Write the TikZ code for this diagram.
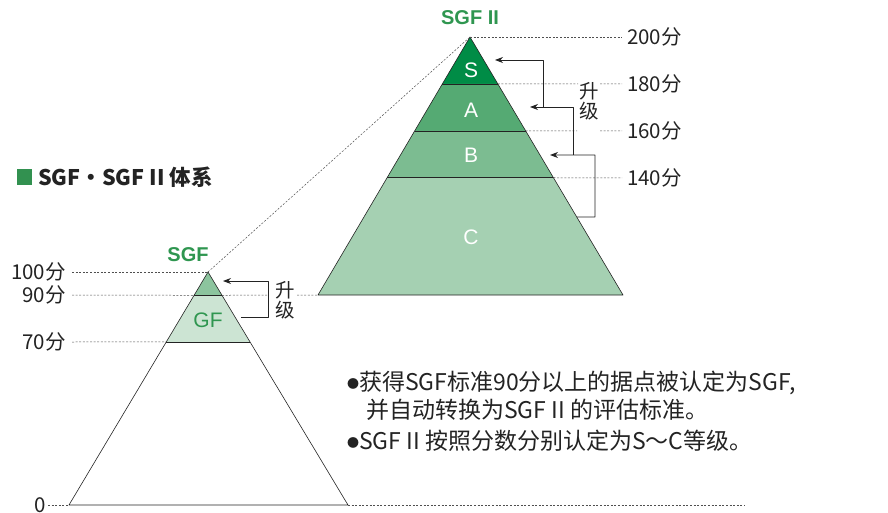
\documentclass[tikz,border=0pt]{standalone}
\usepackage{fontspec}
\setmainfont{Noto Sans CJK SC}
\newfontfamily\arialf{Liberation Sans}
\usetikzlibrary{calc,arrows.meta}
\definecolor{cS}{RGB}{0,140,70}
\definecolor{cA}{RGB}{85,170,115}
\definecolor{cB}{RGB}{124,188,145}
\definecolor{cC}{RGB}{165,208,178}
\definecolor{cTip}{RGB}{140,196,158}
\definecolor{cGF}{RGB}{204,228,211}
\definecolor{gtext}{RGB}{47,150,80}
\definecolor{gsq}{RGB}{50,145,80}
\definecolor{ink}{RGB}{35,35,35}
\begin{document}
\begin{tikzpicture}[x=1pt,y=-1pt,line join=round,
  edge/.style={line width=0.6pt,draw=ink},
  dl/.style={line width=0.5pt,draw=ink!80,dash pattern=on 2pt off 1.6pt},
  arr/.style={line width=0.8pt,draw=ink,-{Stealth[length=8pt,width=6pt]}},
  lbl/.style={font=\fontsize{20.5}{20}\selectfont,text=ink,inner sep=0pt},
  lvl/.style={font=\arialf\fontsize{21}{21}\selectfont,text=white,inner sep=0pt},
  up/.style={font=\fontsize{19.5}{20}\selectfont,text=ink,align=center,inner sep=0pt},
  note/.style={font=\fontsize{23}{23}\selectfont,text=ink,anchor=west,inner sep=0pt}]
\useasboundingbox (0,0) rectangle (888,513);
% big pyramid
\coordinate (Ta) at (470,37);
\coordinate (Tl) at (318,295);
\coordinate (Tr) at (623,295);
\coordinate (l180) at ($(Ta)!0.1818!(Tl)$);
\coordinate (r180) at ($(Ta)!0.1818!(Tr)$);
\coordinate (l160) at ($(Ta)!0.3636!(Tl)$);
\coordinate (r160) at ($(Ta)!0.3636!(Tr)$);
\coordinate (l140) at ($(Ta)!0.5455!(Tl)$);
\coordinate (r140) at ($(Ta)!0.5455!(Tr)$);
\fill[cS] (Ta) -- (r180) -- (l180) -- cycle;
\fill[cA] (l180) -- (r180) -- (r160) -- (l160) -- cycle;
\fill[cB] (l160) -- (r160) -- (r140) -- (l140) -- cycle;
\fill[cC] (l140) -- (r140) -- (Tr) -- (Tl) -- cycle;
\draw[edge] (Ta) -- (Tr) -- (Tl) -- cycle;
\draw[edge] (l180) -- (r180) (l160) -- (r160) (l140) -- (r140);
% small pyramid
\coordinate (ta) at (208,272);
\coordinate (tl) at (69,505);
\coordinate (tr) at (348,505);
\coordinate (l90) at ($(ta)!0.1!(tl)$);
\coordinate (r90) at ($(ta)!0.1!(tr)$);
\coordinate (l70) at ($(ta)!0.3!(tl)$);
\coordinate (r70) at ($(ta)!0.3!(tr)$);
\fill[cTip] (ta) -- (r90) -- (l90) -- cycle;
\fill[cGF] (l90) -- (r90) -- (r70) -- (l70) -- cycle;
\draw[edge] (ta) -- (tr) -- (tl) -- cycle;
\draw[edge] (l90) -- (r90) (l70) -- (r70);
% dashed guide lines
\coordinate (d200) at (622,37);
\coordinate (d180a) at (578,84); \coordinate (d180b) at (600,84); \coordinate (d180) at (622,84);
\coordinate (d160a) at (577,131); \coordinate (d160b) at (600,131); \coordinate (d160) at (622,131);
\coordinate (d140) at (622,178);
\coordinate (s100) at (72,272);
\coordinate (s90) at (72,295);
\coordinate (s90a) at (268,295); \coordinate (s90b) at (297,295);
\coordinate (s70) at (72,342);
\coordinate (s0) at (48,505);
\coordinate (s0r) at (745,505);
\draw[dl] (Ta) -- (d200);
\draw[dl] (r180) -- (d180a) (d180b) -- (d180);
\draw[dl] (r160) -- (d160a) (d160b) -- (d160);
\draw[dl] (r140) -- (d140);
\draw[dl] (s100) -- (ta);
\draw[dl] (s90) -- (l90) (r90) -- (s90a) (s90b) -- (Tl);
\draw[dl] (s70) -- (l70);
\draw[dl] (s0) -- (tl) (tr) -- (s0r);
\draw[dl] (ta) -- (Ta);
% upgrade arrows, big
\coordinate (a3s) at ($(Ta)!0.6977!(Tr)$);
\coordinate (a3c) at (595,217); \coordinate (a3d) at (595,155); \coordinate (a3e) at (550,155);
\coordinate (a2s) at (573,155); \coordinate (a2c) at (573,107); \coordinate (a2e) at (530,107);
\coordinate (a1s) at (543,107); \coordinate (a1c) at (543,60); \coordinate (a1e) at (495,60);
\draw[arr] (a3s) -- (a3c) -- (a3d) -- (a3e);
\draw[arr] (a2s) -- (a2c) -- (a2e);
\draw[arr] (a1s) -- (a1c) -- (a1e);
% upgrade arrow, small
\coordinate (b1s) at (241,317); \coordinate (b1c) at (268,317); \coordinate (b1d) at (268,281); \coordinate (b1e) at (223,281);
\draw[arr] (b1s) -- (b1c) -- (b1d) -- (b1e);
% texts
\node[up] (upA) at (589,101) {升\\级};
\node[up] (upB) at (285,300) {升\\级};
\node[lbl,anchor=west] (t200) at (627,37) {200分};
\node[lbl,anchor=west] (t180) at (627,84) {180分};
\node[lbl,anchor=west] (t160) at (627,131) {160分};
\node[lbl,anchor=west] (t140) at (627,178) {140分};
\node[lbl,anchor=east] (t100) at (66,272) {100分};
\node[lbl,anchor=east] (t90) at (66,295) {90分};
\node[lbl,anchor=east] (t70) at (66,342) {70分};
\node[lbl,anchor=east] (t0) at (46,505) {0};
\node[lvl] (S) at (471,70) {S};
\node[lvl] (A) at (471,110) {A};
\node[lvl] (B) at (471,155) {B};
\node[lvl] (C) at (471,237) {C};
\node[lvl,text=gtext] (GF) at (208,320) {GF};
\node[font=\arialf\bfseries\fontsize{20}{20}\selectfont,text=gtext,inner sep=0pt] (sgf2) at (470,18) {SGF II};
\node[font=\arialf\bfseries\fontsize{20}{20}\selectfont,text=gtext,inner sep=0pt] (sgf) at (188,255) {SGF};
\fill[gsq] (17,169) rectangle (32,185);
\node[font=\bfseries\fontsize{21.5}{21.5}\selectfont,text=ink,anchor=west,inner sep=0pt] (title) at (38,177) {SGF・SGF II 体系};
\node[note] (n1) at (347,383) {\raisebox{2.5pt}{\fontsize{12}{12}\selectfont ●}获得SGF标准90分以上的据点被认定为SGF,};
\node[note] (n2) at (366,410) {并自动转换为SGF II 的评估标准。};
\node[note] (n3) at (347,441) {\raisebox{2.5pt}{\fontsize{12}{12}\selectfont ●}SGF II 按照分数分别认定为S～C等级。};
\end{tikzpicture}
\end{document}
